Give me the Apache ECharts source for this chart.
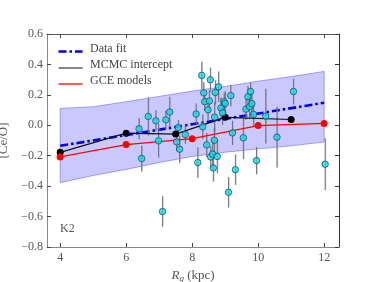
<!DOCTYPE html>
<html><head><meta charset="utf-8">
<script src="https://cdn.jsdelivr.net/npm/echarts@6/dist/echarts.min.js"></script>
<style>html,body{margin:0;padding:0;background:#fff}#c{width:376px;height:282px}</style>
</head><body><div id="c"></div>
<script>
// Observed stars: Rg (kpc), [Ce/O], error
const starR = [6.39,6.47,6.67,6.90,6.98,7.10,7.20,7.32,7.53,7.58,7.62,7.79,8.12,8.17,8.29,8.32,8.35,8.38,8.44,8.48,8.52,8.55,8.56,8.62,8.64,8.67,8.68,8.70,8.76,8.80,8.87,8.92,8.97,9.00,9.10,9.17,9.22,9.31,9.55,9.63,9.69,9.74,9.77,9.81,9.86,9.95,10.23,10.57,11.07,12.03];
const starCeO = [-0.023,-0.219,0.058,0.029,-0.102,-0.567,0.036,0.087,-0.109,-0.015,-0.157,-0.061,0.074,-0.245,0.328,-0.010,0.213,0.155,-0.129,0.102,0.160,0.299,-0.208,-0.190,-0.280,-0.098,0.054,0.216,-0.205,0.253,0.113,0.082,0.155,0.143,-0.440,0.195,-0.050,-0.292,-0.082,0.106,0.188,0.122,0.222,0.142,0.072,-0.232,0.060,-0.078,0.222,-0.256];
const starErr = [0.07,0.085,0.125,0.07,0.11,0.1,0.06,0.1,0.06,0.05,0.09,0.06,0.07,0.1,0.09,0.08,0.07,0.06,0.08,0.07,0.07,0.08,0.07,0.1,0.09,0.08,0.1,0.08,0.11,0.1,0.07,0.08,0.06,0.08,0.1,0.07,0.08,0.1,0.14,0.07,0.07,0.08,0.06,0.07,0.08,0.09,0.18,0.2,0.085,0.17];
// Data fit line and its band
const fitR = [4,12];
const fitCeO = [-0.135,0.148];
const bandR = [4,5,6,7,8,9,10,11,12];
const bandUpper = [0.111,0.122,0.155,0.19,0.225,0.255,0.29,0.32,0.354];
const bandLower = [-0.377,-0.33,-0.29,-0.245,-0.205,-0.177,-0.155,-0.135,-0.11];
// MCMC intercept
const mcmcR = [4,6,7.5,9,11];
const mcmcCeO = [-0.178,-0.052,-0.058,0.052,0.038];
// GCE models
const gceR = [4,6,8,10,12];
const gceCeO = [-0.208,-0.127,-0.088,-0.002,0.012];
// ticks
const xTicks = [4,6,8,10,12];
const legendNames = ['Data fit','MCMC intercept','GCE models'];
const panelLabel = 'K2';

const FONT = 'Liberation Serif';
const chart = echarts.init(document.getElementById('c'), null, {renderer:'canvas'});
const fmtY = v => (v < 0 ? '\u2212' : '') + Math.abs(v).toFixed(1);

const bandData = bandR.map((r,i)=>[r, bandLower[i], bandUpper[i]]);
const starData = starR.map((r,i)=>[r, starCeO[i]]);
const errData = starR.map((r,i)=>[r, starCeO[i]-starErr[i], starCeO[i]+starErr[i]]);

const axisLblStyle = {color:'#555', fontFamily:FONT, fontSize:12};
const xCommon = {type:'value', min:3.6, max:12.45, splitLine:{show:false}};
const yCommon = {type:'value', min:-0.8, max:0.6, interval:0.2, splitLine:{show:false}};

const option = {
  animation:false,
  backgroundColor:'#fff',
  grid:{left:47, right:37, top:34, bottom:35, containLabel:false, outerBoundsMode:'none'},
  xAxis:[
    Object.assign({}, xCommon, {position:'bottom',
      axisLine:{onZero:false, lineStyle:{color:'#888', width:1}},
      axisTick:{inside:true, length:4, customValues:xTicks, lineStyle:{color:'#444'}},
      axisLabel:Object.assign({customValues:xTicks, margin:5, formatter:v=>String(v)}, axisLblStyle),
      name:'{i|R}{s|g} (kpc)', nameLocation:'middle', nameGap:14,
      nameTextStyle:{color:'#555', fontFamily:FONT, fontSize:13,
        rich:{i:{fontStyle:'italic', fontFamily:FONT, fontSize:13, color:'#555'},
              s:{fontStyle:'italic', fontFamily:FONT, fontSize:9, color:'#555', verticalAlign:'bottom', padding:[6,0,0,0]}}}
    }),
    Object.assign({}, xCommon, {position:'top',
      axisLine:{onZero:false, lineStyle:{color:'#555', width:1}},
      axisTick:{inside:true, length:4, customValues:xTicks, lineStyle:{color:'#444'}},
      axisLabel:{show:false}})
  ],
  yAxis:[
    Object.assign({}, yCommon, {position:'left',
      axisLine:{onZero:false, lineStyle:{color:'#888', width:1}},
      axisTick:{inside:true, length:4, lineStyle:{color:'#444'}},
      axisLabel:Object.assign({formatter:fmtY, margin:4}, axisLblStyle),
      name:'[Ce/O]', nameLocation:'middle', nameGap:30, nameRotate:90,
      nameTextStyle:{color:'#555', fontFamily:FONT, fontSize:13}}),
    Object.assign({}, yCommon, {position:'right',
      axisLine:{onZero:false, lineStyle:{color:'#333', width:1}},
      axisTick:{inside:true, length:4, lineStyle:{color:'#333'}},
      axisLabel:{show:false}})
  ],
  series:[
    {type:'custom', name:'band', data:bandData, z:1, silent:true,
     encode:{x:0, y:[1,2]},
     renderItem:function(params, api){
       if (params.dataIndex !== 0) return null;
       const up = bandData.map(d=>api.coord([d[0], d[2]]));
       const lo = bandData.map(d=>api.coord([d[0], d[1]])).reverse();
       return {type:'polygon', shape:{points:up.concat(lo)},
         style:{fill:'rgba(40,40,255,0.25)', stroke:'rgba(60,60,255,0.55)', lineWidth:0.8}};
     }},
    {type:'line', name:'Data fit', data:fitR.map((r,i)=>[r, fitCeO[i]]), z:3, symbol:'none',
     lineStyle:{color:'#0000ee', width:2.6, type:[8,3,2.5,3]}},
    {type:'custom', name:'err', data:errData, z:4, silent:true,
     encode:{x:0, y:[1,2]},
     renderItem:function(params, api){
       const p1 = api.coord([api.value(0), api.value(1)]);
       const p2 = api.coord([api.value(0), api.value(2)]);
       return {type:'group', children:[
         {type:'line', shape:{x1:p1[0]+0.4, y1:p1[1], x2:p2[0]+0.4, y2:p2[1]}, style:{stroke:'rgba(160,160,160,0.6)', lineWidth:1.5}},
         {type:'line', shape:{x1:p1[0], y1:p1[1], x2:p2[0], y2:p2[1]}, style:{stroke:'#555', lineWidth:0.7}}
       ]};
     }},
    {type:'line', name:'MCMC intercept', data:mcmcR.map((r,i)=>[r, mcmcCeO[i]]), z:5,
     symbol:'circle', symbolSize:7, lineStyle:{color:'#111', width:1.2}, itemStyle:{color:'#000'}},
    {type:'line', name:'GCE models', data:gceR.map((r,i)=>[r, gceCeO[i]]), z:5,
     symbol:'circle', symbolSize:7, lineStyle:{color:'#ff0000', width:1.2}, itemStyle:{color:'#ff0000'}},
    {type:'scatter', name:'stars', data:starData, z:6, symbol:'circle', symbolSize:6.5,
     itemStyle:{color:'#10dcec', borderColor:'#113344', borderWidth:0.8}}
  ],
  graphic:[
    {type:'line', left:56, top:49, shape:{x1:0,y1:0,x2:24,y2:0}, style:{stroke:'#0000ee', lineWidth:2.6, lineDash:[8,3,2.5,3]}},
    {type:'text', left:90, top:43, style:{text:legendNames[0], font:'12px "Liberation Serif"', fill:'#444'}},
    {type:'line', left:56, top:65.5, shape:{x1:0,y1:0,x2:24,y2:0}, style:{stroke:'#444', lineWidth:1.3}},
    {type:'text', left:90, top:59, style:{text:legendNames[1], font:'12px "Liberation Serif"', fill:'#444'}},
    {type:'line', left:56, top:81.5, shape:{x1:0,y1:0,x2:24,y2:0}, style:{stroke:'#ff0000', lineWidth:1.3}},
    {type:'text', left:90, top:75, style:{text:legendNames[2], font:'12px "Liberation Serif"', fill:'#444'}},
    {type:'text', left:60, top:223, style:{text:panelLabel, font:'12px "Liberation Serif"', fill:'#555'}}
  ]
};
chart.setOption(option);
</script>
</body></html>
